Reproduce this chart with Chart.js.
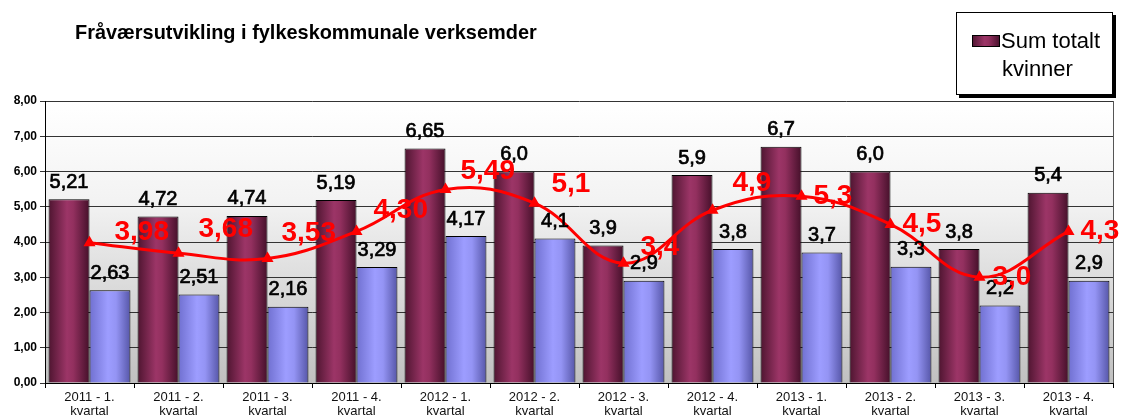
<!DOCTYPE html>
<html><head><meta charset="utf-8">
<script src="https://cdn.jsdelivr.net/npm/chart.js@4"></script>
<style>html,body{margin:0;padding:0;background:#fff}#wrap{width:1121px;height:416px;position:relative}</style>
</head><body><div id="wrap"><canvas id="c" width="1121" height="416"></canvas></div>
<script>
const categories = [
  ['2011 - 1.', 'kvartal'], ['2011 - 2.', 'kvartal'], ['2011 - 3.', 'kvartal'], ['2011 - 4.', 'kvartal'],
  ['2012 - 1.', 'kvartal'], ['2012 - 2.', 'kvartal'], ['2012 - 3.', 'kvartal'], ['2012 - 4.', 'kvartal'],
  ['2013 - 1.', 'kvartal'], ['2013 - 2.', 'kvartal'], ['2013 - 3.', 'kvartal'], ['2013 - 4.', 'kvartal']
];
const sumTotaltKvinner = [5.21, 4.72, 4.74, 5.19, 6.65, 6.0, 3.9, 5.9, 6.7, 6.0, 3.8, 5.4];
const kvinnerDecimals  = [2, 2, 2, 2, 2, 1, 1, 1, 1, 1, 1, 1];
const series2 = [2.63, 2.51, 2.16, 3.29, 4.17, 4.1, 2.9, 3.8, 3.7, 3.3, 2.2, 2.9];
const series2Decimals = [2, 2, 2, 2, 2, 1, 1, 1, 1, 1, 1, 1];
const trend = [3.98, 3.68, 3.53, 4.30, 5.49, 5.1, 3.4, 4.9, 5.3, 4.5, 3.0, 4.3];
const trendDecimals = [2, 2, 2, 2, 2, 1, 1, 1, 1, 1, 1, 1];
const yTicks = [0, 1, 2, 3, 4, 5, 6, 7, 8];
const titleText = 'Fråværsutvikling i fylkeskommunale verksemder';
const legendLines = ['Sum totalt', 'kvinner'];

// label placement style (pixel offsets of the red labels from their point)
const trendLabelDx = [25, 20, 14, 17, 15, 17, 17, 20, 12, 12, 13, 12];
const trendLabelLift = [10, 24, 25, 21, 18, 19, 16, 27, 0, 0, 0, 0];

const fmt = (v, d) => v.toFixed(d).replace('.', ',');
const FONT = 'Arial, "Liberation Sans", sans-serif';

function purpleGrad(ctx, l, r) {
  const g = ctx.createLinearGradient(l, 0, r, 0);
  g.addColorStop(0, '#4e1530');
  g.addColorStop(0.45, '#9c3567');
  g.addColorStop(0.6, '#93305f');
  g.addColorStop(1, '#45102a');
  return g;
}
function blueGrad(ctx, l, r) {
  const g = ctx.createLinearGradient(l, 0, r, 0);
  g.addColorStop(0, '#7070d0');
  g.addColorStop(0.45, '#9d9dff');
  g.addColorStop(0.65, '#9494f4');
  g.addColorStop(1, '#5656a8');
  return g;
}

const decorPlugin = {
  id: 'decor',
  beforeDraw(chart) {
    const { ctx, chartArea: a } = chart;
    ctx.save();
    const g = ctx.createLinearGradient(0, a.top, 0, a.bottom);
    g.addColorStop(0, '#ffffff');
    g.addColorStop(0.35, '#f3f3f3');
    g.addColorStop(1, '#c0c0c0');
    ctx.fillStyle = g;
    ctx.fillRect(a.left, a.top, a.right - a.left, a.bottom - a.top);
    ctx.restore();
  },
  beforeDatasetsDraw(chart) {
    const ctx = chart.ctx;
    [0, 1].forEach(di => {
      const meta = chart.getDatasetMeta(di);
      meta.data.forEach(el => {
        const l = el.x - el.width / 2, r = el.x + el.width / 2;
        const g = di === 0 ? purpleGrad(ctx, l, r) : blueGrad(ctx, l, r);
        el.options = Object.assign({}, el.options, { backgroundColor: g });
      });
    });
  },
  afterDatasetsDraw(chart) {
    const { ctx, chartArea: a } = chart;
    ctx.save();
    // right border of plot
    ctx.strokeStyle = '#555';
    ctx.lineWidth = 1;
    ctx.beginPath();
    ctx.moveTo(Math.round(a.right) + 0.5, a.top);
    ctx.lineTo(Math.round(a.right) + 0.5, a.bottom);
    ctx.stroke();

    // bar labels
    ctx.fillStyle = '#000';
    ctx.strokeStyle = '#000';
    ctx.lineWidth = 0.7;
    ctx.textAlign = 'center';
    ctx.textBaseline = 'middle';
    ctx.font = '20px ' + FONT;
    const m0 = chart.getDatasetMeta(0), m1 = chart.getDatasetMeta(1), m2 = chart.getDatasetMeta(2);
    m0.data.forEach((el, i) => {
      const t = fmt(sumTotaltKvinner[i], kvinnerDecimals[i]);
      ctx.fillText(t, el.x, el.y - 17);
      ctx.strokeText(t, el.x, el.y - 17);
    });
    m1.data.forEach((el, i) => {
      const t = fmt(series2[i], series2Decimals[i]);
      ctx.fillText(t, el.x, el.y - 17);
      ctx.strokeText(t, el.x, el.y - 17);
    });
    // trend labels
    ctx.fillStyle = '#ff0000';
    ctx.textAlign = 'left';
    ctx.font = 'bold 28px ' + FONT;
    m2.data.forEach((el, i) => {
      ctx.fillText(fmt(trend[i], trendDecimals[i]), el.x + trendLabelDx[i], el.y - trendLabelLift[i]);
    });

    // title (sized to span 462px)
    ctx.fillStyle = '#000';
    ctx.textBaseline = 'alphabetic';
    ctx.font = 'bold 20px ' + FONT;
    const w20 = ctx.measureText(titleText).width;
    const ts = Math.min(22, Math.max(16, 20 * 462 / w20));
    ctx.font = 'bold ' + ts.toFixed(2) + 'px ' + FONT;
    ctx.fillText(titleText, 75, 39);

    // legend box
    const bx = 956, by = 12, bw = 157, bh = 83;
    ctx.fillStyle = '#000';
    ctx.fillRect(bx + 3, by + 3, bw, bh);
    ctx.fillStyle = '#fff';
    ctx.fillRect(bx, by, bw, bh);
    ctx.strokeStyle = '#000';
    ctx.lineWidth = 1;
    ctx.strokeRect(bx + 0.5, by + 0.5, bw - 1, bh - 1);
    ctx.fillStyle = purpleGrad(ctx, 972, 1000);
    ctx.fillRect(972, 35, 28, 12);
    ctx.strokeRect(972.5, 35.5, 27, 11);
    ctx.fillStyle = '#000';
    ctx.font = '22px ' + FONT;
    ctx.fillText(legendLines[0], 1001, 48);
    ctx.fillText(legendLines[1], 1002, 76);
    ctx.restore();
  }
};

new Chart(document.getElementById('c'), {
  type: 'bar',
  data: {
    labels: categories,
    datasets: [
      { label: 'Sum totalt kvinner', data: sumTotaltKvinner, backgroundColor: '#8b2b5e', borderColor: '#000', borderWidth: 1, order: 2, categoryPercentage: 0.92, barPercentage: 1.0 },
      { label: 'Serie 2', data: series2, backgroundColor: '#9999ff', borderColor: '#000', borderWidth: 1, order: 2, categoryPercentage: 0.92, barPercentage: 1.0 },
      { type: 'line', label: 'Trend', data: trend, borderColor: '#ff0000', backgroundColor: '#ff0000', borderWidth: 3, tension: 0.4, pointStyle: 'triangle', pointRadius: 4, order: 1 }
    ]
  },
  options: {
    responsive: false,
    animation: false,
    layout: { padding: { top: 101, right: 8, left: 0, bottom: 0 } },
    plugins: { legend: { display: false }, tooltip: { enabled: false }, title: { display: false } },
    scales: {
      x: {
        afterFit: s => { s.height = 33; },
        grid: { offset: true, drawOnChartArea: false, tickLength: 5, color: '#000' },
        border: { color: '#000' },
        ticks: { color: '#111', font: { family: FONT, size: 13, lineHeight: 1.1 }, padding: 2, maxRotation: 0, autoSkip: false }
      },
      y: {
        min: 0, max: 8,
        afterFit: s => { s.width = 45; },
        afterBuildTicks: s => { s.ticks = yTicks.map(v => ({ value: v })); },
        grid: { color: '#333', lineWidth: 1, tickLength: 5 },
        border: { color: '#000' },
        ticks: { color: '#000', font: { family: FONT, size: 12, weight: 'bold' }, padding: 3, callback: v => fmt(v, 2) }
      }
    }
  },
  plugins: [decorPlugin]
});
</script>
</body></html>
